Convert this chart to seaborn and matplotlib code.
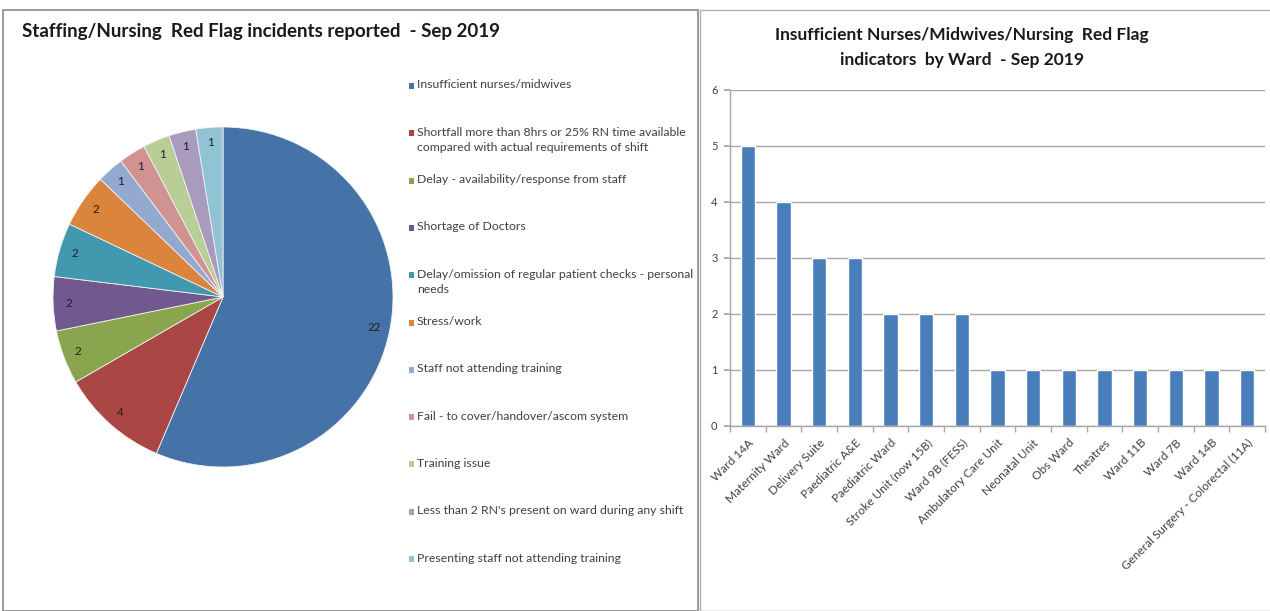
import matplotlib
matplotlib.use("Agg")
import matplotlib.pyplot as plt
import matplotlib.patches as mpatches
import numpy as np
import pandas as pd
import seaborn as sns

# ---------------- data ----------------
pie_categories = [
    "Insufficient nurses/midwives",
    "Shortfall more than 8hrs or 25% RN time available\ncompared with actual requirements of shift",
    "Delay - availability/response from staff",
    "Shortage of Doctors",
    "Delay/omission of regular patient checks - personal\nneeds",
    "Stress/work",
    "Staff not attending training",
    "Fail - to cover/handover/ascom system",
    "Training issue",
    "Less than 2 RN's present on ward during any shift",
    "Presenting staff not attending training",
]
pie_values = [22, 4, 2, 2, 2, 2, 1, 1, 1, 1, 1]
pie_colors = ["#4572A7", "#AA4643", "#89A54E", "#71588F", "#4198AF", "#DB843D",
              "#93A9CF", "#D19392", "#B9CD96", "#A99BBD", "#92C3D5"]

wards = ["Ward 14A", "Maternity Ward", "Delivery Suite", "Paediatric A&E",
         "Paediatric Ward", "Stroke Unit (now 15B)", "Ward 9B (FESS)",
         "Ambulatory Care Unit", "Neonatal Unit", "Obs Ward", "Theatres",
         "Ward 11B", "Ward 7B", "Ward 14B", "General Surgery - Colorectal (11A)"]
ward_counts = [5, 4, 3, 3, 2, 2, 2, 1, 1, 1, 1, 1, 1, 1, 1]
y_ticks = [0, 1, 2, 3, 4, 5, 6]

# ---------------- style ----------------
sns.set_theme(style="white")
plt.rcParams['font.family'] = ['Lato', 'DejaVu Sans']
TXT = "#404040"

W, H = 1270, 611
fig = plt.figure(figsize=(W / 100, H / 100), dpi=100)
fig.patch.set_facecolor("white")

def fx(px):
    return px / W

def fy(py):
    return 1 - py / H

# panel borders
fig.add_artist(mpatches.Rectangle((fx(3), fy(611)), fx(695), fy(10) - fy(611),
                                  transform=fig.transFigure, fill=False,
                                  edgecolor="#8a8a8a", linewidth=1.2))
fig.add_artist(mpatches.Rectangle((fx(700), fy(611)), fx(572), fy(10) - fy(611),
                                  transform=fig.transFigure, fill=False,
                                  edgecolor="#b0b0b0", linewidth=1.0))

# ---------------- pie ----------------
r = 170
cx, cy = 223, 297
ax1 = fig.add_axes([fx(cx - r), fy(cy + r), fx(2 * r), fy(cy - r) - fy(cy + r)])
wedges, texts = ax1.pie(pie_values, colors=pie_colors, startangle=90, counterclock=False,
                        labels=[str(v) for v in pie_values], labeldistance=0.91,
                        wedgeprops=dict(edgecolor="#f2f2f2", linewidth=0.6),
                        textprops=dict(fontsize=8.5, color="#202020"))
for t in texts:
    t.set_ha("center")
    t.set_va("center")
ax1.set_xlim(-1.0, 1.0)
ax1.set_ylim(-1.0, 1.0)
ax1.set_aspect("equal")

# legend (Excel-style, evenly spaced entries)
leg_x0, leg_y0, leg_step = 409, 86, 47.3
for i, (lab, col) in enumerate(zip(pie_categories, pie_colors)):
    yy = leg_y0 + i * leg_step
    fig.add_artist(mpatches.Rectangle((fx(leg_x0), fy(yy + 3)), fx(5), fy(yy - 3) - fy(yy + 3),
                                      transform=fig.transFigure, facecolor=col,
                                      edgecolor="none"))
    fig.text(fx(leg_x0 + 8), fy(yy - 6.5), lab, fontsize=8.8, color=TXT,
             ha="left", va="top", linespacing=1.45)

fig.text(fx(22), fy(32), "Staffing/Nursing  Red Flag incidents reported  - Sep 2019",
         fontsize=13.5, fontweight="bold", color="#1a1a1a", ha="left", va="center")

# ---------------- bar ----------------
ax2 = fig.add_axes([fx(730), fy(426), fx(1265 - 730), fy(90) - fy(426)])
df = pd.DataFrame({"ward": wards, "count": ward_counts})
sns.barplot(data=df, x="ward", y="count", ax=ax2, color="#4A7EBB",
            width=0.4, saturation=1, order=wards)
ax2.set_xlim(-0.5, len(wards) - 0.5)
ax2.set_ylim(0, 6)
ax2.set_yticks(y_ticks)
ax2.set_xlabel("")
ax2.set_ylabel("")
ax2.yaxis.grid(True, color="#a6a6a6", linewidth=1.0)
ax2.set_axisbelow(True)
for s in ["top", "right"]:
    ax2.spines[s].set_visible(False)
for s in ["left", "bottom"]:
    ax2.spines[s].set_color("#a6a6a6")
    ax2.spines[s].set_linewidth(1.0)
ax2.tick_params(axis="y", left=True, length=4, color="#a6a6a6", labelsize=8,
                labelcolor=TXT, pad=5)
ax2.set_xticks(np.arange(len(wards) + 1) - 0.5, minor=True)
ax2.tick_params(axis="x", which="minor", bottom=True, length=4, color="#a6a6a6")
ax2.tick_params(axis="x", which="major", bottom=False, length=0, labelsize=8.6,
                labelcolor=TXT, pad=8)
plt.setp(ax2.get_xticklabels(), rotation=45, ha="right", rotation_mode="anchor")

fig.text(fx(962), fy(35), "Insufficient Nurses/Midwives/Nursing  Red Flag",
         fontsize=12.5, fontweight="bold", color="#1a1a1a", ha="center", va="center")
fig.text(fx(962), fy(60), "indicators  by Ward  - Sep 2019",
         fontsize=12.5, fontweight="bold", color="#1a1a1a", ha="center", va="center")

fig.savefig("out.png", dpi=100, facecolor="white")
